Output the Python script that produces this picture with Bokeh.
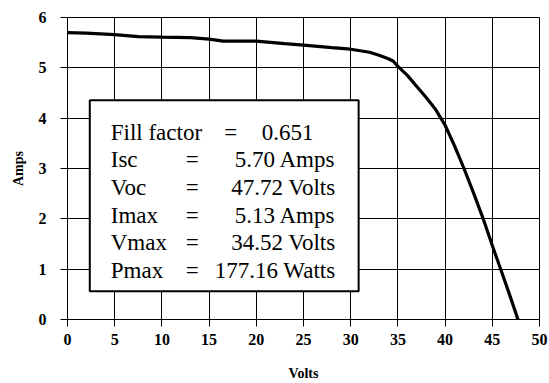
from bokeh.plotting import figure
from bokeh.models import ColumnDataSource, Range1d, FixedTicker, BoxAnnotation
from bokeh.core.properties import value
from bokeh.embed import file_html
from bokeh.resources import INLINE

# ---- data ----
volts = [0, 2, 5, 7.5, 10, 13, 15, 16.5, 20, 23, 25, 28, 30, 32, 33, 34, 34.52,
         35, 36, 37, 38, 39, 40, 41, 42, 43, 44, 45, 46, 47, 47.72]
amps = [5.70, 5.69, 5.66, 5.62, 5.61, 5.60, 5.57, 5.53, 5.53, 5.48, 5.45, 5.40,
        5.37, 5.31, 5.25, 5.18, 5.13, 5.03, 4.85, 4.63, 4.41, 4.17, 3.86, 3.45,
        3.00, 2.52, 2.02, 1.47, 0.94, 0.40, 0.00]

x_ticks = [0, 5, 10, 15, 20, 25, 30, 35, 40, 45, 50]
y_ticks = [0, 1, 2, 3, 4, 5, 6]

info_labels = ["Fill factor", "Isc", "Voc", "Imax", "Vmax", "Pmax"]
info_values = ["0.651", "5.70 Amps", "47.72 Volts", "5.13 Amps", "34.52 Volts", "177.16 Watts"]

SERIF = "Liberation Serif"

p = figure(width=549, height=383, output_backend="svg", toolbar_location=None,
           x_range=Range1d(0, 50), y_range=Range1d(0, 6),
           min_border_left=67, min_border_right=10, min_border_top=17, min_border_bottom=64)
p.background_fill_color = "white"
p.border_fill_color = "white"
p.outline_line_color = "black"
p.outline_line_width = 1
p.outline_line_alpha = 1

for ax in (p.xaxis, p.yaxis):
    ax.major_tick_out = 7
    ax.major_tick_in = 0
    ax.minor_tick_line_color = None
    ax.axis_line_color = "black"
    ax.axis_line_alpha = 1
    ax.major_tick_line_color = "black"
    ax.major_tick_line_alpha = 1
    ax.major_label_text_font = SERIF
    ax.major_label_text_font_style = "bold"
    ax.major_label_text_font_size = "16px"
    ax.major_label_text_color = "black"
    ax.axis_label_text_font = SERIF
    ax.axis_label_text_font_style = "bold"
    ax.axis_label_text_font_size = "14px"
    ax.axis_label_text_color = "black"

p.xaxis.ticker = FixedTicker(ticks=x_ticks)
p.yaxis.ticker = FixedTicker(ticks=y_ticks)
p.xaxis.major_label_standoff = 7
p.yaxis.major_label_standoff = 14
p.xaxis.axis_label = "Volts"
p.yaxis.axis_label = "Amps"
p.xaxis.axis_label_standoff = 18
p.yaxis.axis_label_standoff = 10

p.xgrid.ticker = FixedTicker(ticks=x_ticks)
p.ygrid.ticker = FixedTicker(ticks=y_ticks)
for g in (p.xgrid, p.ygrid):
    g.grid_line_color = "black"
    g.grid_line_alpha = 1
    g.grid_line_width = 1

# IV curve
src = ColumnDataSource(dict(v=volts, i=amps))
p.line("v", "i", source=src, line_color="black", line_width=3.2)

# info box
box_left, box_right, box_bottom, box_top = 2.36, 30.84, 0.562, 4.357
p.add_layout(BoxAnnotation(left=box_left, right=box_right, bottom=box_bottom, top=box_top,
                           fill_color="white", fill_alpha=1.0,
                           line_color="black", line_alpha=1.0, line_width=2))

first_base = 3.721
step = 0.55
ys = [first_base - k * step for k in range(len(info_labels))]
lab_x = [4.58] * len(info_labels)
eq_x = [17.29] + [13.21] * (len(info_labels) - 1)
val_x = [26.07] + [28.4] * (len(info_labels) - 1)

tsrc = ColumnDataSource(dict(lx=lab_x, ex=eq_x, vx=val_x, y=ys,
                             lab=info_labels, eq=["="] * len(info_labels), val=info_values))
common = dict(source=tsrc, text_font=value(SERIF), text_font_size="23px",
              text_color="black", text_baseline="alphabetic", level="overlay")
p.text(x="lx", y="y", text="lab", text_align="left", **common)
p.text(x="ex", y="y", text="eq", text_align="center", **common)
p.text(x="vx", y="y", text="val", text_align="right", **common)

open("out.html", "w").write(file_html(p, INLINE))
